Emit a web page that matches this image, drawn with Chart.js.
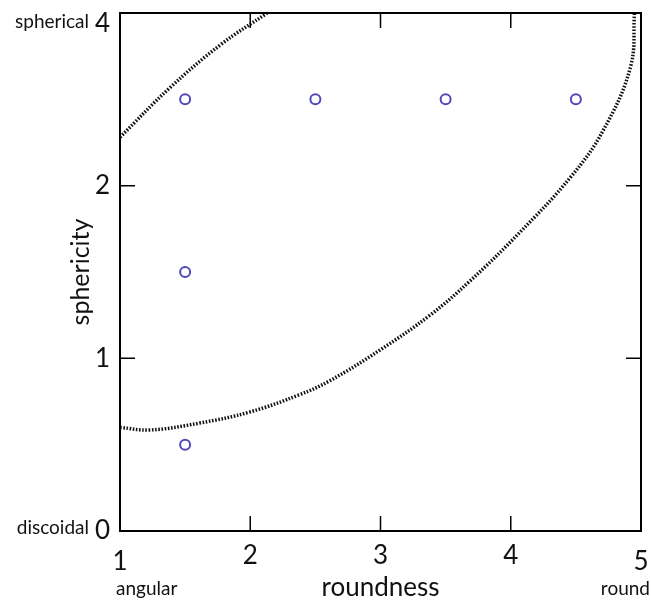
<!DOCTYPE html>
<html>
<head>
<meta charset="utf-8">
<script src="https://cdn.jsdelivr.net/npm/chart.js@4.4.1/dist/chart.umd.min.js"></script>
<style>
  html, body { margin: 0; padding: 0; background: #fff; }
  #wrap { width: 651px; height: 603px; position: relative; }
</style>
</head>
<body>
<div id="wrap"><canvas id="c" width="651" height="603"></canvas></div>
<script>
// ---- data ----
const xTickValues = [1, 2, 3, 4, 5];
const yTickLabels = ['0', '1', '2', '4'];          // equally spaced sphericity classes
const pointsX = [1.5, 2.5, 3.5, 4.5, 1.5, 1.5];
const pointsY = [2.5, 2.5, 2.5, 2.5, 1.5, 0.5];
const lowerCurveX = [1.00, 1.23, 1.61, 2.00, 2.38, 2.61, 3.00, 3.38, 3.69, 4.07, 4.46, 4.71, 4.92, 4.95];
const lowerCurveY = [0.60, 0.585, 0.625, 0.69, 0.79, 0.87, 1.05, 1.25, 1.45, 1.73, 2.05, 2.32, 2.69, 3.00];
const upperCurveX = [1.00, 1.38, 1.77, 2.13];
const upperCurveY = [2.28, 2.565, 2.815, 3.00];
const xAxisTitle = 'roundness';
const yAxisTitle = 'sphericity';
const xEndLabels = ['angular', 'round'];
const yEndLabels = ['discoidal', 'spherical'];

const FONT = 'Lato, "Open Sans", sans-serif';
const zip = (xs, ys) => xs.map((x, i) => ({ x: x, y: ys[i] }));

const framePlugin = {
  id: 'frame',
  afterDraw(chart) {
    const ctx = chart.ctx;
    const a = chart.chartArea;
    const xs = chart.scales.x, ys = chart.scales.y;
    ctx.save();
    ctx.strokeStyle = '#000';
    ctx.lineWidth = 2;
    ctx.strokeRect(a.left, a.top, a.right - a.left, a.bottom - a.top);
    const tl = 15;
    ctx.lineWidth = 1.5;
    ctx.beginPath();
    xTickValues.forEach(v => {
      if (v === xs.min || v === xs.max) return;
      const px = xs.getPixelForValue(v);
      ctx.moveTo(px, a.bottom); ctx.lineTo(px, a.bottom - tl);
      ctx.moveTo(px, a.top); ctx.lineTo(px, a.top + tl);
    });
    yTickLabels.forEach((l, i) => {
      if (i === ys.min || i === ys.max) return;
      const py = ys.getPixelForValue(i);
      ctx.moveTo(a.left, py); ctx.lineTo(a.left + tl, py);
      ctx.moveTo(a.right, py); ctx.lineTo(a.right - tl, py);
    });
    ctx.stroke();
    // end labels
    ctx.fillStyle = '#111';
    ctx.font = '19px ' + FONT;
    ctx.textBaseline = 'middle';
    ctx.textAlign = 'right';
    ctx.fillText(yEndLabels[1], 89, ys.getPixelForValue(ys.max) + 9);
    ctx.fillText(yEndLabels[0], 89, ys.getPixelForValue(ys.min) - 3);
    ctx.textAlign = 'left';
    ctx.fillText(xEndLabels[0], xs.getPixelForValue(xs.min) - 4, 589);
    ctx.textAlign = 'right';
    ctx.fillText(xEndLabels[1], 650, 589);
    ctx.restore();
  }
};

new Chart(document.getElementById('c'), {
  type: 'scatter',
  data: {
    datasets: [
      {
        data: zip(pointsX, pointsY),
        pointRadius: 5,
        pointHoverRadius: 5,
        pointBorderWidth: 2,
        pointBorderColor: 'rgb(82,72,185)',
        pointBackgroundColor: '#fff',
        showLine: false
      },
      {
        data: zip(lowerCurveX, lowerCurveY),
        showLine: true,
        pointRadius: 0,
        borderColor: '#111',
        borderWidth: 3.5,
        borderDash: [1.6, 1.6],
        tension: 0.4,
        fill: false
      },
      {
        data: zip(upperCurveX, upperCurveY),
        showLine: true,
        pointRadius: 0,
        borderColor: '#111',
        borderWidth: 3.5,
        borderDash: [1.6, 1.6],
        tension: 0.4,
        fill: false
      }
    ]
  },
  options: {
    responsive: false,
    animation: false,
    layout: { padding: { top: 13, right: 10, left: 62, bottom: 0 } },
    plugins: { legend: { display: false }, tooltip: { enabled: false } },
    scales: {
      x: {
        type: 'linear', min: 1, max: 5,
        grid: { display: false, drawTicks: false },
        border: { display: false },
        afterBuildTicks: s => { s.ticks = xTickValues.map(v => ({ value: v })); },
        afterFit: s => { s.height = 72; s.paddingLeft = 0; s.paddingRight = 0; },
        ticks: {
          padding: 9,
          color: '#111',
          maxRotation: 0,
          autoSkip: false,
          callback: v => (v === 1 || v === 5) ? ['', String(v)] : String(v),
          font: c => ({ family: FONT, size: 26,
            lineHeight: (c.tick && (c.tick.value === 1 || c.tick.value === 5)) ? 0.56 : 1.2 })
        },
        title: {
          display: true, text: xAxisTitle, color: '#111',
          font: { family: FONT, size: 26 }, padding: { top: 0, bottom: 0 }
        }
      },
      y: {
        type: 'linear', min: 0, max: 3,
        grid: { display: false, drawTicks: false },
        border: { display: false },
        afterBuildTicks: s => { s.ticks = yTickLabels.map((l, i) => ({ value: i })); },
        afterFit: s => { s.width = 58; s.paddingTop = 0; s.paddingBottom = 0; },
        ticks: {
          padding: 10,
          color: '#111',
          autoSkip: false,
          callback: v => v === 3 ? ['', yTickLabels[v]] : yTickLabels[v],
          font: c => ({ family: FONT, size: 26,
            lineHeight: (c.tick && c.tick.value === 3) ? 0.8 : 1.2 })
        },
        title: {
          display: true, text: yAxisTitle, color: '#111',
          font: { family: FONT, size: 25 }, padding: { top: 4, bottom: 4 }
        }
      }
    }
  },
  plugins: [framePlugin]
});
</script>
</body>
</html>
